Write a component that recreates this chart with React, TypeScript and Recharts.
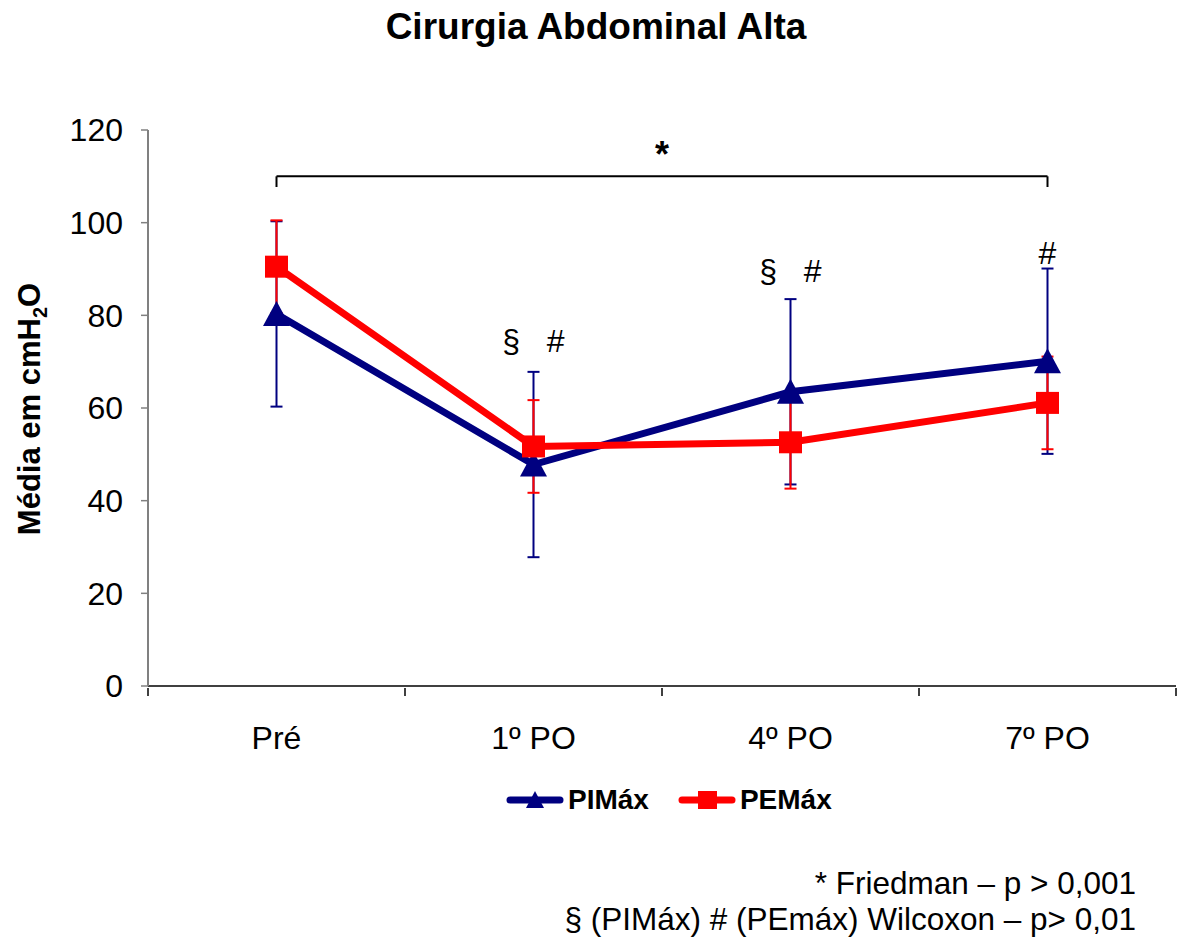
import { LineChart, Line, XAxis, YAxis, ErrorBar, ReferenceLine, ReferenceDot } from 'recharts';

const categories = ['Pré', '1º PO', '4º PO', '7º PO'];
const pimax = [80.3, 47.8, 63.5, 70.1];
const pimaxErr = [20, 20, 20, 20];
const pemax = [90.5, 51.7, 52.6, 61.1];
const pemaxErr = [10, 10, 10, 10];
// significance marks above each time point, and the value they sit at
const marks = ['', '§   #', '§   #', '#'];
const markY = [0, 74.5, 89.6, 93.5];
const yTicks = [0, 20, 40, 60, 80, 100, 120];

const NAVY = '#000080';
const RED = '#FF0000';
const FONT = '"Liberation Sans", Arial, Helvetica, sans-serif';

const W = 1179;
const H = 942;
const LEFT = 148;
const RIGHT = 3;
const PLOT_W = W - LEFT - RIGHT;

const data = categories.map((name, i) => ({
  name,
  pimax: pimax[i],
  pimaxErr: pimaxErr[i],
  pemax: pemax[i],
  pemaxErr: pemaxErr[i],
}));

function Triangle(props: any) {
  const { cx, cy } = props;
  if (cx == null || cy == null) return null;
  return <polygon points={`${cx},${cy - 13} ${cx - 13.5},${cy + 12} ${cx + 13.5},${cy + 12}`} fill={NAVY} />;
}

function Square(props: any) {
  const { cx, cy } = props;
  if (cx == null || cy == null) return null;
  return <rect x={cx - 11.5} y={cy - 11} width={23} height={22} fill={RED} />;
}

function CatTick(props: any) {
  const { x, y, payload, index } = props;
  const half = PLOT_W / categories.length / 2;
  return (
    <g>
      <line x1={x - half} x2={x - half} y1={y} y2={y + 8} stroke="#000" strokeWidth={1.5} />
      {index === categories.length - 1 && (
        <line x1={x + half} x2={x + half} y1={y} y2={y + 8} stroke="#000" strokeWidth={1.5} />
      )}
      <text x={x} y={y + 61} textAnchor="middle" fontSize={32} fontFamily={FONT} fill="#000">
        {payload.value}
      </text>
    </g>
  );
}

function YLabel() {
  return (
    <text
      x={40}
      y={409}
      transform="rotate(-90 40 409)"
      textAnchor="middle"
      fontSize={31}
      fontWeight="bold"
      fontFamily={FONT}
      fill="#000"
    >
      Média em cmH
      <tspan dy={7} fontSize={20}>2</tspan>
      <tspan dy={-7}>O</tspan>
    </text>
  );
}

function markLabel(text: string) {
  return (props: any) => {
    const vb = props.viewBox || {};
    return (
      <text
        x={vb.x + (vb.width || 0) / 2}
        y={vb.y + (vb.height || 0) / 2}
        textAnchor="middle"
        dominantBaseline="central"
        fontSize={32}
        fontFamily={FONT}
        fill="#000"
        style={{ whiteSpace: 'pre' }}
      >
        {text}
      </text>
    );
  };
}

function LegendIcon({ color, shape }: { color: string; shape: 'tri' | 'sq' }) {
  return (
    <svg width={58} height={24}>
      <line x1={4} x2={54} y1={12} y2={12} stroke={color} strokeWidth={7} strokeLinecap="round" />
      {shape === 'tri' ? (
        <polygon points="29,3 20,20 38,20" fill={color} />
      ) : (
        <rect x={20} y={3} width={19} height={18} fill={color} />
      )}
    </svg>
  );
}

export default function App() {
  return (
    <div style={{ position: 'absolute', left: 0, top: 0, width: W, height: H, background: '#fff', fontFamily: FONT }}>
      <div
        style={{
          position: 'absolute',
          top: 8,
          left: 0,
          width: 1192,
          textAlign: 'center',
          fontSize: 37,
          lineHeight: '37px',
          fontWeight: 'bold',
        }}
      >
        Cirurgia Abdominal Alta
      </div>

      <LineChart width={W} height={H} data={data} margin={{ top: 130, right: RIGHT, bottom: 196, left: LEFT - 60 }}>
        <XAxis
          dataKey="name"
          scale="band"
          interval={0}
          tickLine={false}
          tickSize={0}
          axisLine={{ stroke: '#000', strokeWidth: 1.5 }}
          tick={<CatTick />}
          height={60}
        />
        <YAxis
          domain={[0, 120]}
          ticks={yTicks}
          interval={0}
          width={60}
          tickSize={7}
          tickMargin={18}
          axisLine={{ stroke: '#808080', strokeWidth: 2 }}
          tickLine={{ stroke: '#808080', strokeWidth: 1.5 }}
          tick={{ fontSize: 32, fill: '#000', fontFamily: FONT }}
          label={<YLabel />}
        />

        <ReferenceLine
          segment={[{ x: categories[0], y: 110 }, { x: categories[3], y: 110 }]}
          stroke="#000"
          strokeWidth={2}
          ifOverflow="visible"
          label={{ value: '*', position: 'top', offset: 9, fontSize: 36, fontWeight: 'bold', fill: '#000', fontFamily: FONT }}
        />
        <ReferenceLine
          segment={[{ x: categories[0], y: 110 }, { x: categories[0], y: 107.7 }]}
          stroke="#000"
          strokeWidth={2}
          ifOverflow="visible"
        />
        <ReferenceLine
          segment={[{ x: categories[3], y: 110 }, { x: categories[3], y: 107.7 }]}
          stroke="#000"
          strokeWidth={2}
          ifOverflow="visible"
        />

        <Line
          dataKey="pimax"
          stroke={NAVY}
          strokeWidth={7}
          dot={<Triangle />}
          activeDot={false}
          isAnimationActive={false}
        >
          <ErrorBar dataKey="pimaxErr" width={6} strokeWidth={2} stroke={NAVY} />
        </Line>
        <Line
          dataKey="pemax"
          stroke={RED}
          strokeWidth={7}
          dot={<Square />}
          activeDot={false}
          isAnimationActive={false}
        >
          <ErrorBar dataKey="pemaxErr" width={6} strokeWidth={2} stroke={RED} />
        </Line>

        {categories.map((c, i) =>
          marks[i] ? (
            <ReferenceDot key={c} x={c} y={markY[i]} r={0} fill="none" stroke="none" ifOverflow="visible" label={markLabel(marks[i])} />
          ) : null
        )}
      </LineChart>

      <div
        style={{
          position: 'absolute',
          top: 786,
          left: 506,
          display: 'flex',
          alignItems: 'center',
          fontSize: 28,
          fontWeight: 'bold',
          lineHeight: '28px',
        }}
      >
        <LegendIcon color={NAVY} shape="tri" />
        <span style={{ marginLeft: 4, marginRight: 29 }}>PIMáx</span>
        <LegendIcon color={RED} shape="sq" />
        <span style={{ marginLeft: 4 }}>PEMáx</span>
      </div>

      <div style={{ position: 'absolute', top: 865, right: 43, textAlign: 'right', fontSize: 31.5, lineHeight: '36px' }}>
        <div>* Friedman – p &gt; 0,001</div>
        <div>§ (PIMáx) # (PEmáx) Wilcoxon – p&gt; 0,01</div>
      </div>
    </div>
  );
}
